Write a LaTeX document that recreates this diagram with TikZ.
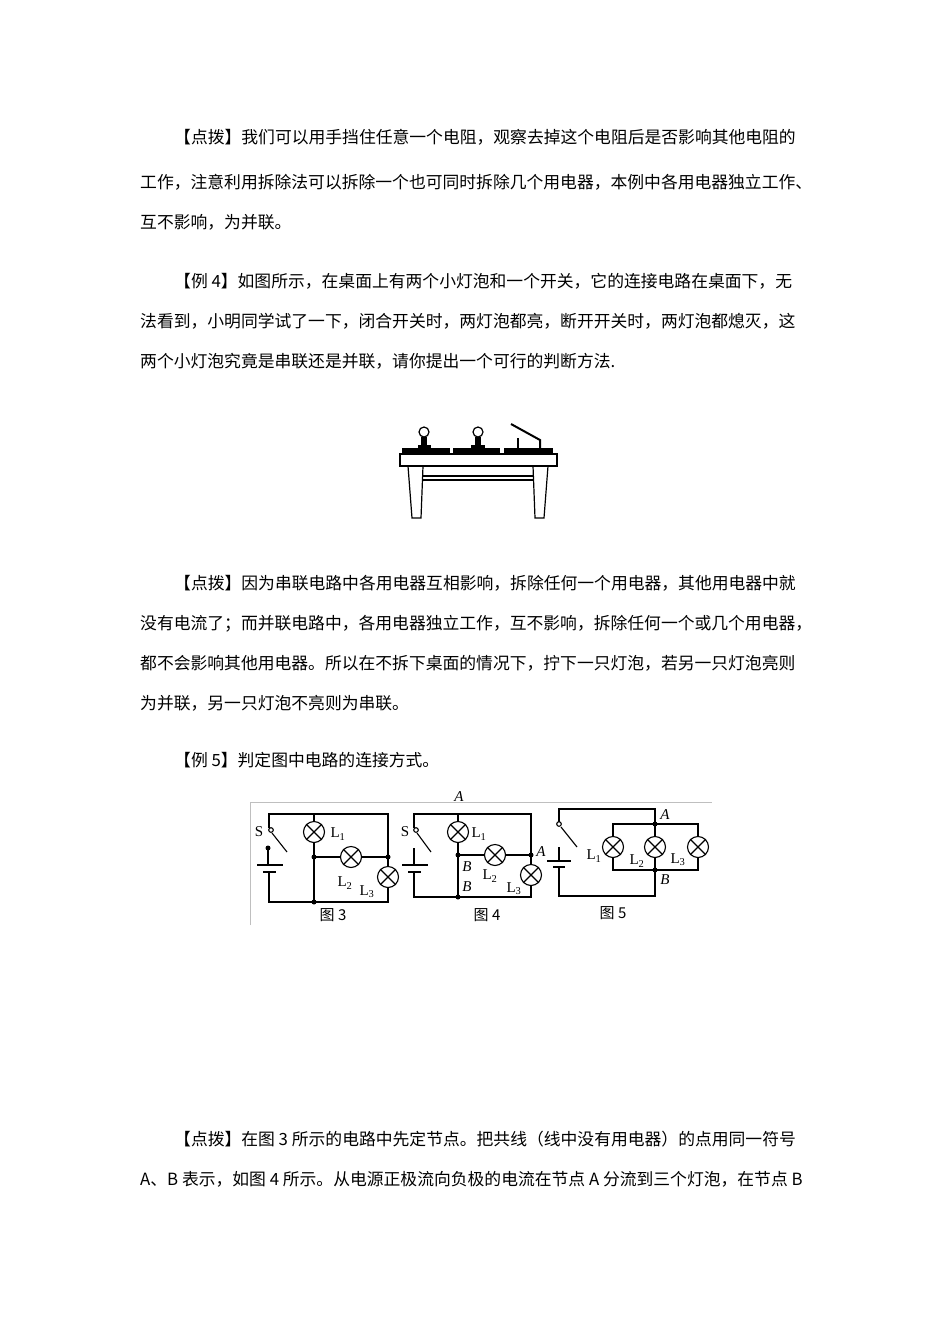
\documentclass[tikz,border=0pt]{standalone}
\usepackage{fontspec}
\setmainfont{Liberation Serif}
\newfontfamily\cjk{Noto Sans CJK SC}
\tikzset{
  txt/.style={anchor=west,inner sep=0pt,font=\cjk\fontsize{16.8}{16.8}\selectfont},
  wire/.style={line width=1.1pt},
  lampc/.style={circle,draw,line width=1.1pt,minimum size=21pt,inner sep=0pt,fill=white},
  dotn/.style={circle,fill,inner sep=0pt,minimum size=5pt},
  lab/.style={inner sep=0pt,font=\fontsize{15}{15}\selectfont},
  labi/.style={inner sep=0pt,font=\itshape\fontsize{15}{15}\selectfont},
  cap3/.style={inner sep=0pt,font=\cjk\fontsize{15}{15}\selectfont},
}
\newcommand{\lamp}[3]{\node[lampc] (#1) at (#2,#3) {};
  \draw[wire] (#1.45)--(#1.225) (#1.135)--(#1.-45);}
\begin{document}
\begin{tikzpicture}[x=1pt,y=-1pt]
\useasboundingbox (0,0) rectangle (950,1344);
\fill[white] (0,0) rectangle (950,1344);
% text
\node[txt] (t1) at (174,137) {【点拨】我们可以用手挡住任意一个电阻，观察去掉这个电阻后是否影响其他电阻的};
\node[txt] (t2) at (140,182) {工作，注意利用拆除法可以拆除一个也可同时拆除几个用电器，本例中各用电器独立工作、};
\node[txt] (t3) at (140,222) {互不影响，为并联。};
\node[txt] (t4) at (174,281) {【例 4】如图所示，在桌面上有两个小灯泡和一个开关，它的连接电路在桌面下，无};
\node[txt] (t5) at (140,321) {法看到，小明同学试了一下，闭合开关时，两灯泡都亮，断开开关时，两灯泡都熄灭，这};
\node[txt] (t6) at (140,361) {两个小灯泡究竟是串联还是并联，请你提出一个可行的判断方法.};
\node[txt] (t7) at (174,583) {【点拨】因为串联电路中各用电器互相影响，拆除任何一个用电器，其他用电器中就};
\node[txt] (t8) at (140,624) {没有电流了；而并联电路中，各用电器独立工作，互不影响，拆除任何一个或几个用电器，};
\node[txt] (t9) at (140,663) {都不会影响其他用电器。所以在不拆下桌面的情况下，拧下一只灯泡，若另一只灯泡亮则};
\node[txt] (t10) at (140,703) {为并联，另一只灯泡不亮则为串联。};
\node[txt] (t11) at (174,760) {【例 5】判定图中电路的连接方式。};
\node[txt] (t12) at (174,1139) {【点拨】在图 3 所示的电路中先定节点。把共线（线中没有用电器）的点用同一符号};
\node[txt] (t13) at (140,1179) {A、B 表示，如图 4 所示。从电源正极流向负极的电流在节点 A 分流到三个灯泡，在节点 B};
% table
\begin{scope}[line width=1.2pt]
\draw (400,454) rectangle (557,466);
\draw (408,466)--(412,518)--(421,518)--(423,466);
\draw (533,466)--(535,518)--(544,518)--(548,466);
\draw (423,476)--(533,476) (423,480)--(533,480);
\fill (402,448) rectangle (450,454);
\fill (453,448) rectangle (500,454);
\fill (504,448) rectangle (553,454);
\draw[fill=white] (424,432) circle (5pt);
\draw[fill=white] (478,432) circle (5pt);
\fill (421,437) rectangle (427,447); \fill (418,445) rectangle (431,450);
\fill (475,437) rectangle (481,447); \fill (471,445) rectangle (485,450);
\draw[line width=2pt] (511,424)--(540,440)--(540,448);
\draw[line width=2.2pt] (518,438)--(518,448);
\end{scope}
% frame
\draw[gray!50,line width=0.8pt] (250,925)--(250,802)--(712,802);
% figure 3
\lamp{a1}{314}{832}\lamp{a2}{351}{857}\lamp{a3}{388}{877}
\node[dotn] (n31) at (314,857) {};
\node[dotn] (n32) at (388,857) {};
\node[dotn] (n33) at (314,902) {};
\node[dotn] (b3) at (268,848) {};
\draw[wire] (269,828)--(269,814)--(388,814)--(n32.center)--(a3);
\draw[wire] (314,814)--(a1)--(n31.center)--(n33.center);
\draw[wire] (n31.center)--(a2)--(n32.center);
\draw[wire] (a3)--(388,902)--(269,902)--(269,872);
\draw[wire] (257,865)--(283,865) (263,872)--(276,872) (b3.center)--(268,865);
\draw[wire,fill=white] (271,830) circle (2.3pt);
\draw[wire] (272,833)--(287,852);
\node[lab] (S3) at (259,832) {S};
\node[lab] (L31) at (338,834) {L\textsubscript{1}};
\node[lab] (L32) at (345,883) {L\textsubscript{2}};
\node[lab] (L33) at (367,892) {L\textsubscript{3}};
\node[cap3] (c3) at (333,915) {图 3};
% figure 4
\lamp{b1}{458}{832}\lamp{b2}{495}{855}\lamp{b3l}{531}{875}
\node[dotn] (n41) at (458,855) {};
\node[dotn] (n42) at (531,855) {};
\node[dotn] (n43) at (458,897) {};
\draw[wire] (414,828)--(414,814)--(531,814)--(n42.center)--(b3l);
\draw[wire] (458,814)--(b1)--(n41.center)--(n43.center);
\draw[wire] (n41.center)--(b2)--(n42.center);
\draw[wire] (b3l)--(531,897)--(414,897)--(414,872);
\draw[wire] (402,865)--(428,865) (408,872)--(421,872) (414,848)--(414,865);
\draw[wire,fill=white] (416,830) circle (2.3pt);
\draw[wire] (417,833)--(431,852);
\node[lab] (S4) at (405,832) {S};
\node[labi] (A4t) at (459,797) {A};
\node[labi] (A4) at (541,852) {A};
\node[labi] (B41) at (467,867) {B};
\node[labi] (B42) at (467,887) {B};
\node[lab] (L41) at (479,834) {L\textsubscript{1}};
\node[lab] (L42) at (490,876) {L\textsubscript{2}};
\node[lab] (L43) at (514,889) {L\textsubscript{3}};
\node[cap3] (c4) at (487,915) {图 4};
% figure 5
\lamp{c1}{613}{847}\lamp{c2}{655}{847}\lamp{c3}{698}{847}
\node[dotn] (nA) at (655,824) {};
\node[dotn] (nB) at (655,870) {};
\draw[wire] (559,822)--(559,809)--(655,809)--(nA.center);
\draw[wire] (613,836)--(613,824)--(698,824)--(698,836) (nA.center)--(c2);
\draw[wire] (c1)--(613,870)--(698,870)--(c3) (c2)--(nB.center);
\draw[wire] (nB.center)--(655,896)--(559,896)--(559,867);
\draw[wire] (547,861)--(571,861) (553,867)--(565,867) (559,847)--(559,861);
\draw[wire,fill=white] (559,824) circle (2.3pt);
\draw[wire] (561,827)--(577,847);
\node[labi] (A5) at (665,815) {A};
\node[labi] (B5) at (665,880) {B};
\node[lab] (L51) at (594,856) {L\textsubscript{1}};
\node[lab] (L52) at (637,861) {L\textsubscript{2}};
\node[lab] (L53) at (678,860) {L\textsubscript{3}};
\node[cap3] (c5) at (613,913) {图 5};
\end{tikzpicture}
\end{document}
